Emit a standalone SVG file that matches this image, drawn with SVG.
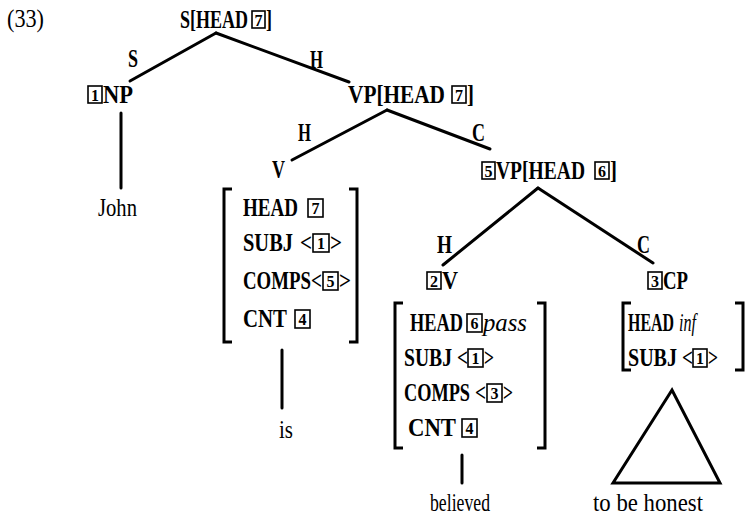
<svg xmlns="http://www.w3.org/2000/svg" width="751" height="516" viewBox="0 0 751 516">
<style>
text{font-family:"Liberation Serif","Times New Roman",serif;font-size:25px;fill:#000;font-weight:bold}
.lt{font-weight:normal}
.it{font-style:italic;font-weight:normal}
.num{font-size:16px;text-anchor:middle;font-weight:bold}
.box{fill:none;stroke:#000;stroke-width:1.6}
.edge{stroke:#000;stroke-width:3;fill:none;stroke-linecap:round}
.br{stroke:#000;stroke-width:3;fill:none}
</style>
<rect width="751" height="516" fill="#fff"/>
<g id="label33"><text class="lt" x="7" y="27" textLength="37" lengthAdjust="spacingAndGlyphs">(33)</text></g>

<g id="connectors">
<line class="edge" x1="216" y1="33" x2="130" y2="81"/>
<line class="edge" x1="216" y1="33" x2="349" y2="82"/>
<line class="edge" x1="121" y1="113" x2="121" y2="188"/>
<line class="edge" x1="387" y1="110" x2="292" y2="160"/>
<line class="edge" x1="387" y1="110" x2="490" y2="149"/>
<line class="edge" x1="282" y1="350" x2="282" y2="408"/>
<line class="edge" x1="538" y1="188" x2="443" y2="265"/>
<line class="edge" x1="538" y1="188" x2="653" y2="263"/>
<line class="edge" x1="462" y1="455" x2="462" y2="483"/>
<text x="128" y="67" textLength="10" lengthAdjust="spacingAndGlyphs">S</text>
<text x="310" y="68" textLength="13" lengthAdjust="spacingAndGlyphs">H</text>
<text x="298" y="141" textLength="13" lengthAdjust="spacingAndGlyphs">H</text>
<text x="472" y="141" textLength="13" lengthAdjust="spacingAndGlyphs">C</text>
<text x="437" y="253" textLength="15" lengthAdjust="spacingAndGlyphs">H</text>
<text x="637" y="253" textLength="13" lengthAdjust="spacingAndGlyphs">C</text>
</g>

<g id="S">
<text x="180" y="28" textLength="68" lengthAdjust="spacingAndGlyphs">S[HEAD</text>
<rect class="box" x="252" y="11" width="13" height="17"/><text class="num" x="258.5" y="26">7</text>
<text x="266" y="28" textLength="6" lengthAdjust="spacingAndGlyphs">]</text>
</g>

<g id="NP1">
<rect class="box" x="88" y="86" width="14" height="17"/><text class="num" x="95" y="101">1</text>
<text x="103" y="103" textLength="30" lengthAdjust="spacingAndGlyphs">NP</text>
</g>
<g id="John"><text class="lt" x="98" y="216" textLength="39" lengthAdjust="spacingAndGlyphs">John</text></g>

<g id="VP7">
<text x="348" y="103" textLength="97" lengthAdjust="spacingAndGlyphs">VP[HEAD</text>
<rect class="box" x="452" y="86" width="14" height="17"/><text class="num" x="459" y="101">7</text>
<text x="467" y="103" textLength="7" lengthAdjust="spacingAndGlyphs">]</text>
</g>

<g id="V">
<text x="272" y="178" textLength="13" lengthAdjust="spacingAndGlyphs">V</text>
<path class="br" d="M232,189 H224 V342 H232"/>
<path class="br" d="M349,189 H357 V342 H349"/>
<text x="243" y="216" textLength="55" lengthAdjust="spacingAndGlyphs">HEAD</text>
<rect class="box" x="308" y="199" width="15" height="18"/><text class="num" x="315.5" y="214">7</text>
<text x="243" y="251" textLength="50" lengthAdjust="spacingAndGlyphs">SUBJ</text>
<text x="300" y="251" textLength="12" lengthAdjust="spacingAndGlyphs">&lt;</text>
<rect class="box" x="313" y="234" width="16" height="18"/><text class="num" x="321" y="249">1</text>
<text x="330" y="251" textLength="12" lengthAdjust="spacingAndGlyphs">&gt;</text>
<text x="243" y="289" textLength="68" lengthAdjust="spacingAndGlyphs">COMPS</text>
<text x="311" y="289" textLength="11" lengthAdjust="spacingAndGlyphs">&lt;</text>
<rect class="box" x="323" y="272" width="15" height="18"/><text class="num" x="330.5" y="287">5</text>
<text x="339" y="289" textLength="12" lengthAdjust="spacingAndGlyphs">&gt;</text>
<text x="243" y="327" textLength="44" lengthAdjust="spacingAndGlyphs">CNT</text>
<rect class="box" x="295" y="310" width="15" height="18"/><text class="num" x="302.5" y="325">4</text>
</g>
<g id="is"><text class="lt" x="279" y="438" textLength="14" lengthAdjust="spacingAndGlyphs">is</text></g>

<g id="VP5">
<rect class="box" x="482" y="162" width="13" height="17"/><text class="num" x="488.5" y="177">5</text>
<text x="496" y="179" textLength="89" lengthAdjust="spacingAndGlyphs">VP[HEAD</text>
<rect class="box" x="595" y="162" width="14" height="17"/><text class="num" x="602" y="177">6</text>
<text x="610" y="179" textLength="7" lengthAdjust="spacingAndGlyphs">]</text>
</g>

<g id="V2">
<rect class="box" x="427" y="272" width="14" height="17"/><text class="num" x="434" y="287">2</text>
<text x="442" y="289" textLength="16" lengthAdjust="spacingAndGlyphs">V</text>
<path class="br" d="M403,303 H395 V448 H403"/>
<path class="br" d="M537,303 H545 V448 H537"/>
<text x="410" y="331" textLength="53" lengthAdjust="spacingAndGlyphs">HEAD</text>
<rect class="box" x="467" y="314" width="15" height="18"/><text class="num" x="474.5" y="329">6</text>
<text class="it" x="483" y="331" textLength="44" lengthAdjust="spacingAndGlyphs">pass</text>
<text x="404" y="366" textLength="48" lengthAdjust="spacingAndGlyphs">SUBJ</text>
<text x="457" y="366" textLength="11" lengthAdjust="spacingAndGlyphs">&lt;</text>
<rect class="box" x="468" y="349" width="15" height="18"/><text class="num" x="475.5" y="364">1</text>
<text x="484" y="366" textLength="10" lengthAdjust="spacingAndGlyphs">&gt;</text>
<text x="404" y="401" textLength="66" lengthAdjust="spacingAndGlyphs">COMPS</text>
<text x="475" y="401" textLength="11" lengthAdjust="spacingAndGlyphs">&lt;</text>
<rect class="box" x="487" y="384" width="15" height="18"/><text class="num" x="494.5" y="399">3</text>
<text x="503" y="401" textLength="10" lengthAdjust="spacingAndGlyphs">&gt;</text>
<text x="408" y="436" textLength="48" lengthAdjust="spacingAndGlyphs">CNT</text>
<rect class="box" x="462" y="419" width="15" height="18"/><text class="num" x="469.5" y="434">4</text>
</g>
<g id="believed"><text class="lt" x="430" y="511" textLength="60" lengthAdjust="spacingAndGlyphs">believed</text></g>

<g id="CP3">
<rect class="box" x="648" y="272" width="14" height="17"/><text class="num" x="655" y="287">3</text>
<text x="663" y="289" textLength="25" lengthAdjust="spacingAndGlyphs">CP</text>
<path class="br" d="M631,303 H623 V370 H631"/>
<path class="br" d="M735,303 H743 V370 H735"/>
<text x="628" y="331" textLength="46" lengthAdjust="spacingAndGlyphs">HEAD</text>
<text class="it" x="679" y="331" textLength="17" lengthAdjust="spacingAndGlyphs">inf</text>
<text x="628" y="366" textLength="49" lengthAdjust="spacingAndGlyphs">SUBJ</text>
<text x="682" y="366" textLength="11" lengthAdjust="spacingAndGlyphs">&lt;</text>
<rect class="box" x="693" y="349" width="14" height="18"/><text class="num" x="700" y="364">1</text>
<text x="708" y="366" textLength="10" lengthAdjust="spacingAndGlyphs">&gt;</text>
<path class="edge" d="M672,390 L613,483 L720,483 Z" stroke-linejoin="miter"/>
</g>
<g id="honest"><text class="lt" x="593" y="511" textLength="110" lengthAdjust="spacingAndGlyphs">to be honest</text></g>
</svg>
